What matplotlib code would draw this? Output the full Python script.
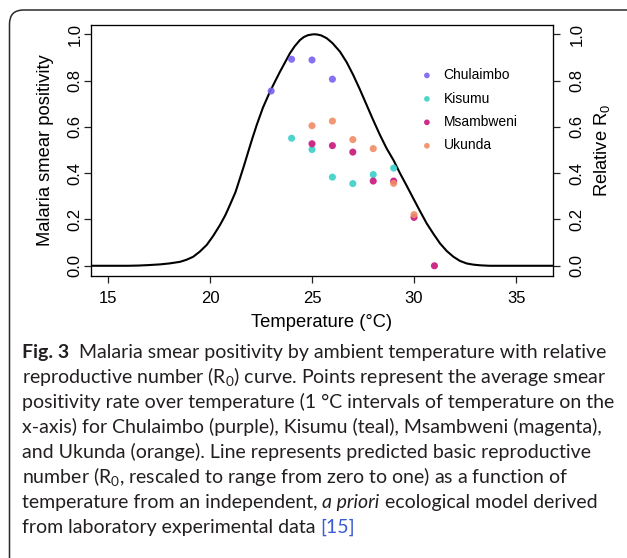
import matplotlib
matplotlib.use('Agg')
import matplotlib.pyplot as plt
from matplotlib.patches import FancyBboxPatch
from matplotlib.transforms import IdentityTransform

# points: mean smear positivity per 1 degree bin
chul_temp = [23, 24, 25, 26]
chul_val = [0.755, 0.892, 0.889, 0.806]
kis_temp = [24, 25, 26, 27, 28, 29]
kis_val = [0.551, 0.502, 0.383, 0.355, 0.394, 0.422]
msa_temp = [25, 26, 27, 28, 29, 30, 31]
msa_val = [0.527, 0.519, 0.491, 0.366, 0.366, 0.209, 0.0]
uku_temp = [25, 26, 27, 28, 29, 30]
uku_val = [0.605, 0.625, 0.545, 0.506, 0.356, 0.221]

# relative R0 curve
r0_temp = [14.0, 15.0, 16.0, 16.5, 17.0, 17.55, 18.0, 18.53, 18.85, 19.18, 19.5,
           19.84, 20.15, 20.49, 20.75, 20.98, 21.25, 21.47, 21.68, 21.88, 22.08,
           22.29, 22.6, 22.94, 23.2, 23.43, 23.7, 23.92, 24.15, 24.41, 24.6,
           24.8, 25.0, 25.1, 25.25, 25.45, 25.72, 26.0, 26.37, 26.7, 27.02,
           27.35, 27.68, 28.0, 28.33, 28.65, 29.0, 29.31, 29.65, 29.97, 30.3,
           30.62, 30.95, 31.27, 31.6, 31.93, 32.25, 32.58, 32.9, 33.24, 33.7,
           35.0, 37.0]
r0_val = [0.0, 0.0, 0.0, 0.001, 0.003, 0.006, 0.010, 0.017, 0.026, 0.039, 0.061,
          0.090, 0.128, 0.176, 0.218, 0.263, 0.318, 0.378, 0.436, 0.494, 0.551,
          0.608, 0.684, 0.752, 0.798, 0.838, 0.882, 0.918, 0.948, 0.975, 0.988,
          0.996, 0.999, 1.0, 0.999, 0.995, 0.983, 0.962, 0.925, 0.879, 0.824,
          0.761, 0.694, 0.629, 0.565, 0.508, 0.455, 0.400, 0.344, 0.290, 0.235,
          0.183, 0.138, 0.097, 0.064, 0.039, 0.021, 0.010, 0.005, 0.002, 0.0,
          0.0, 0.0]

names = ['Chulaimbo', 'Kisumu', 'Msambweni', 'Ukunda']
colors = ['#7a62f0', '#3ccfc8', '#c8157c', '#f08c64']

W, H = 627, 558
fig = plt.figure(figsize=(W / 100, H / 100), dpi=100)

# rounded frame around figure + caption
frame = FancyBboxPatch((9.5, -30), 660, H - 10 + 30, boxstyle='round,pad=0,rounding_size=14',
                       transform=IdentityTransform(), facecolor='none',
                       edgecolor='#2a2a2a', linewidth=1.1)
fig.add_artist(frame)

ax = fig.add_axes([91 / W, 1 - 275.5 / H, 462 / W, 250.5 / H])
ax.plot(r0_temp, r0_val, color='black', lw=1.5, zorder=2,
        solid_joinstyle='round', solid_capstyle='round')
series = [(chul_temp, chul_val), (kis_temp, kis_val), (msa_temp, msa_val), (uku_temp, uku_val)]
for (t, v), name, c in zip(series, names, colors):
    ax.scatter(t, v, s=26, color=c, alpha=0.9, edgecolors='none', label=name, zorder=3)

ax.set_xlim(14.17, 36.81)
ax.set_ylim(-0.042, 1.04)
ax.set_xticks([15, 20, 25, 30, 35])
ax.set_yticks([0.0, 0.2, 0.4, 0.6, 0.8, 1.0])
ax.set_yticklabels(['0.0', '0.2', '0.4', '0.6', '0.8', '1.0'])
for s in ax.spines.values():
    s.set_linewidth(0.9)
    s.set_color('#222222')

tick_font = dict(family='Liberation Sans', size=12)
ax.tick_params(axis='x', direction='out', length=5, width=0.9, color='#222222', pad=6)
ax.tick_params(axis='y', direction='out', length=5, width=0.9, color='#222222', pad=1)
for lab in ax.get_xticklabels():
    lab.set(**tick_font)
for lab in ax.get_yticklabels():
    lab.set(**tick_font, rotation=90, va='center')
ax.set_xlabel('Temperature (°C)', family='Liberation Sans', size=13.2, labelpad=6)
ax.set_ylabel('Malaria smear positivity', family='Liberation Sans', size=13.2, labelpad=10)

ax2 = ax.twinx()
ax2.set_ylim(ax.get_ylim())
ax2.set_yticks([0.0, 0.2, 0.4, 0.6, 0.8, 1.0])
ax2.set_yticklabels(['0.0', '0.2', '0.4', '0.6', '0.8', '1.0'])
ax2.tick_params(direction='out', length=5, width=0.9, color='#222222', pad=7)
for lab in ax2.get_yticklabels():
    lab.set(**tick_font, rotation=90, va='center')
ax2.set_ylabel(r'Relative $\mathregular{R_0}$', family='Liberation Sans', size=13.2, labelpad=5)

ax.legend(loc='upper left', bbox_to_anchor=(0.712, 0.828), frameon=False,
          prop={'family': 'Liberation Sans', 'size': 10}, borderpad=0,
          handlelength=1.0, handletextpad=0.7, labelspacing=0.68,
          markerscale=0.8, borderaxespad=0)

# caption
cap = dict(family='Lato', size=14, color='#231f20')
x0 = 22 / W
base = [358 + 25 * i for i in range(8)]


def fy(py):
    return 1 - py / H


def chain(prev, s, **kw):
    opts = dict(cap)
    opts.update(kw)
    return ax.annotate(s, xy=(1, 0), xycoords=prev, ha='left', va='bottom',
                       annotation_clip=False, **opts)


t = fig.text(x0, fy(base[0]), 'Fig. 3', weight='bold', va='baseline', **cap)
chain(t, '  Malaria smear positivity by ambient temperature with relative')
fig.text(x0, fy(base[1]), r'reproductive number ($\mathregular{R_0}$) curve. Points represent the average smear',
         va='baseline', **cap)
fig.text(x0, fy(base[2]), 'positivity rate over temperature (1 °C intervals of temperature on the',
         va='baseline', **cap)
fig.text(x0, fy(base[3]), 'x-axis) for Chulaimbo (purple), Kisumu (teal), Msambweni (magenta),',
         va='baseline', **cap)
fig.text(x0, fy(base[4]), 'and Ukunda (orange). Line represents predicted basic reproductive',
         va='baseline', **cap)
fig.text(x0, fy(base[5]), r'number ($\mathregular{R_0}$, rescaled to range from zero to one) as a function of',
         va='baseline', **cap)
t = fig.text(x0, fy(base[6]), 'temperature from an independent, ', va='baseline', **cap)
t = chain(t, 'a priori', style='italic')
chain(t, ' ecological model derived')
t = fig.text(x0, fy(base[7]), 'from laboratory experimental data ', va='baseline', **cap)
chain(t, '[15]', color='#3b5bd6')

fig.savefig('out.png', dpi=100)
